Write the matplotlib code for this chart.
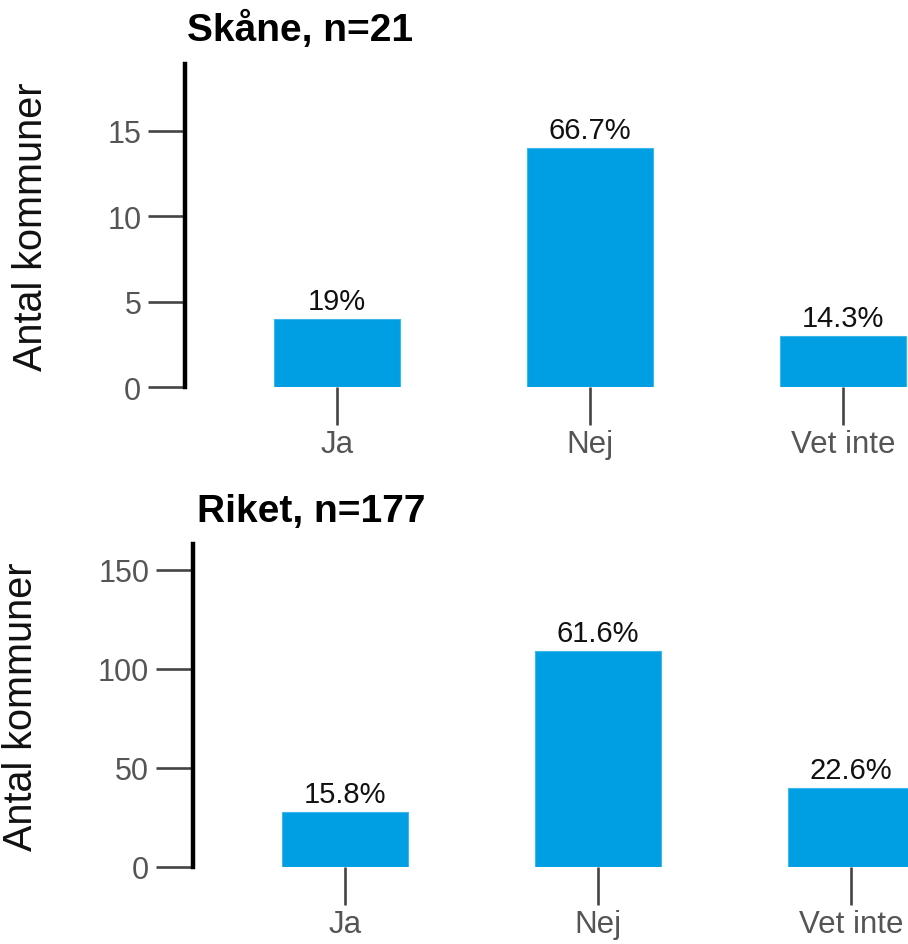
import matplotlib

matplotlib.use("Agg")
import matplotlib.pyplot as plt

plt.rcParams["font.family"] = ["Liberation Sans", "DejaVu Sans"]

categories = ["Ja", "Nej", "Vet inte"]
skane_counts = [4, 14, 3]
riket_counts = [28, 109, 40]
skane_n = 21
riket_n = 177

BAR = "#009FE3"
TICK = "#444444"
LABEL = "#555555"
W, H = 908, 945


def panel(fig, rect_px, counts, n, ymax, yticks, title, title_px, ylabel_px):
    left, top = rect_px
    ax = fig.add_axes((left / W, 1 - (top + 323) / H, 810 / W, 323 / H))
    x = range(len(counts))
    ax.bar(x, counts, width=0.5, color=BAR, edgecolor="#3DB6EA", linewidth=0.8)
    for xi, c in zip(x, counts):
        pct = round(c / n * 100, 1)
        ax.text(xi, c + ymax * 0.012, f"{pct:g}%", ha="center", va="bottom",
                fontsize=21, color="#111111")
    ax.set_xlim(-0.6, 2.6)
    ax.set_ylim(0, ymax)
    ax.set_xticks(list(x))
    ax.set_xticklabels(categories)
    ax.set_yticks(yticks)
    for s in ("top", "right", "bottom"):
        ax.spines[s].set_visible(False)
    ax.spines["left"].set_linewidth(3.2)
    ax.spines["left"].set_color("black")
    ax.tick_params(axis="x", length=27, width=1.9, color=TICK, pad=3,
                   labelsize=22.5, labelcolor=LABEL)
    ax.tick_params(axis="y", length=26.5, width=1.9, color=TICK, pad=5,
                   labelsize=22, labelcolor=LABEL)
    fig.text(title_px[0] / W, 1 - title_px[1] / H, title, fontsize=28,
             fontweight="bold", ha="left", va="baseline")
    fig.text(ylabel_px[0] / W, 1 - ylabel_px[1] / H, "Antal kommuner",
             rotation=90, ha="center", va="center", fontsize=28.5, color="#111111")
    return ax


fig = plt.figure(figsize=(W / 100, H / 100), dpi=100)
panel(fig, (185, 65), skane_counts, skane_n, 18.9, [0, 5, 10, 15],
      f"Skåne, n={skane_n}", (187, 41), (31, 227))
panel(fig, (193, 545), riket_counts, riket_n, 163, [0, 50, 100, 150],
      f"Riket, n={riket_n}", (197, 522), (21, 707))
fig.savefig("out.png", dpi=100)
